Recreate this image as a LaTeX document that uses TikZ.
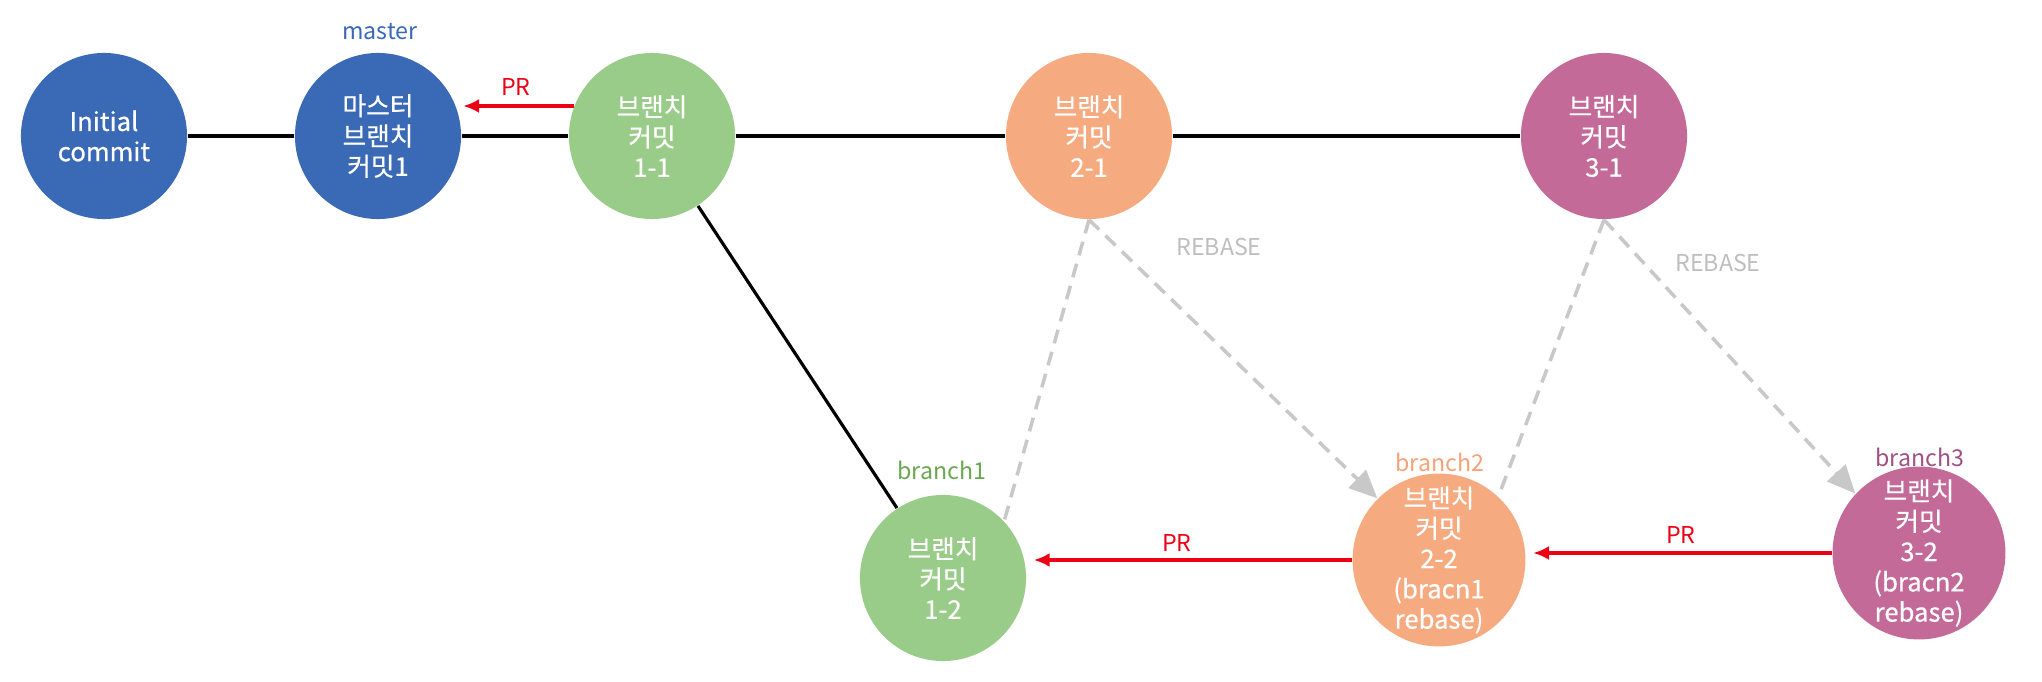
\documentclass[tikz,border=0pt]{standalone}
\usepackage{fontspec}
\setmainfont{Noto Sans CJK KR}
\newfontfamily\nodefam[FakeBold=0.6]{Noto Sans CJK KR}
\usetikzlibrary{arrows.meta,calc}
\definecolor{cblue}{RGB}{58,105,181}
\definecolor{cgreen}{RGB}{153,203,137}
\definecolor{corange}{RGB}{245,170,128}
\definecolor{cpurple}{RGB}{196,106,153}
\definecolor{lgreen}{RGB}{106,168,79}
\definecolor{lorange}{RGB}{244,162,120}
\definecolor{lpurple}{RGB}{160,80,130}
\definecolor{cred}{RGB}{235,0,20}
\definecolor{cgray}{RGB}{200,200,200}
\definecolor{tgray}{RGB}{190,190,190}
\newcommand{\nodefnt}{\nodefam\fontsize{7.3}{8.6}\selectfont}
\newcommand{\lblfnt}{\fontsize{6.6}{8}\selectfont}
\begin{document}
\begin{tikzpicture}[x=0.01cm,y=-0.01cm,
  commit/.style={circle, minimum size=1.66cm, inner sep=0pt, text=white, align=center, font=\nodefnt},
  lbl/.style={inner sep=0pt, font=\lblfnt},
  mainline/.style={line width=0.9pt, black},
  reb/.style={line width=1pt, cgray, dash pattern=on 4pt off 2.5pt},
  rebarrow/.style={reb, -{Triangle[length=8pt,width=7pt,fill=cgray]}},
  pr/.style={line width=1pt, cred, -{Latex[length=4.5pt,width=4pt]}, shorten >=2pt}]
\useasboundingbox (0,0) rectangle (2042,682);
% commits
\node[commit, fill=cblue] (ini) at (104,136) {Initial\\commit};
\node[commit, fill=cblue] (mst) at (378,136) {마스터\\브랜치\\커밋1};
\node[commit, fill=cgreen] (b11) at (652,136) {브랜치\\커밋\\1-1};
\node[commit, fill=corange] (b21) at (1089,136) {브랜치\\커밋\\2-1};
\node[commit, fill=cpurple] (b31) at (1604,136) {브랜치\\커밋\\3-1};
\node[commit, fill=cgreen] (b12) at (943,578) {브랜치\\커밋\\1-2};
\node[commit, fill=corange] (b22) at (1439,560) {브랜치\\커밋\\2-2\\(bracn1\\rebase)};
\node[commit, fill=cpurple] (b32) at (1919,553) {브랜치\\커밋\\3-2\\(bracn2\\rebase)};
% branch labels
\node[lbl, text=cblue] (lmaster) at (380,32) {master};
\node[lbl, text=lgreen] (lb1) at (942,470) {branch1};
\node[lbl, text=lorange] (lb2) at (1440,462) {branch2};
\node[lbl, text=lpurple] (lb3) at (1920,457) {branch3};
% main lines
\draw[mainline] (ini) -- (mst);
\draw[mainline] (mst) -- (b11);
\draw[mainline] (b11) -- (b21);
\draw[mainline] (b21) -- (b31);
\draw[mainline] (b11) -- (b12);
% rebase lines
\draw[reb] (b21.south) -- (b12.43);
\draw[rebarrow] (b21.south) -- (b22.135);
\draw[reb] (b31.south) -- (b22.47);
\draw[rebarrow] (b31.south) -- (b32.137);
\node[lbl, text=tgray] (r1) at (1219,247) {REBASE};
\node[lbl, text=tgray] (r2) at (1718,263) {REBASE};
% PR arrows
\draw[pr] (b11.159) -- (mst.21);
\draw[pr] (b22.west) -- (b22.west -| b12.east);
\draw[pr] (b32.west) -- (b32.west -| b22.east);
\node[lbl, text=cred] (p1) at (516,87) {PR};
\node[lbl, text=cred] (p2) at (1177,543) {PR};
\node[lbl, text=cred] (p3) at (1681,535) {PR};
\end{tikzpicture}
\end{document}
